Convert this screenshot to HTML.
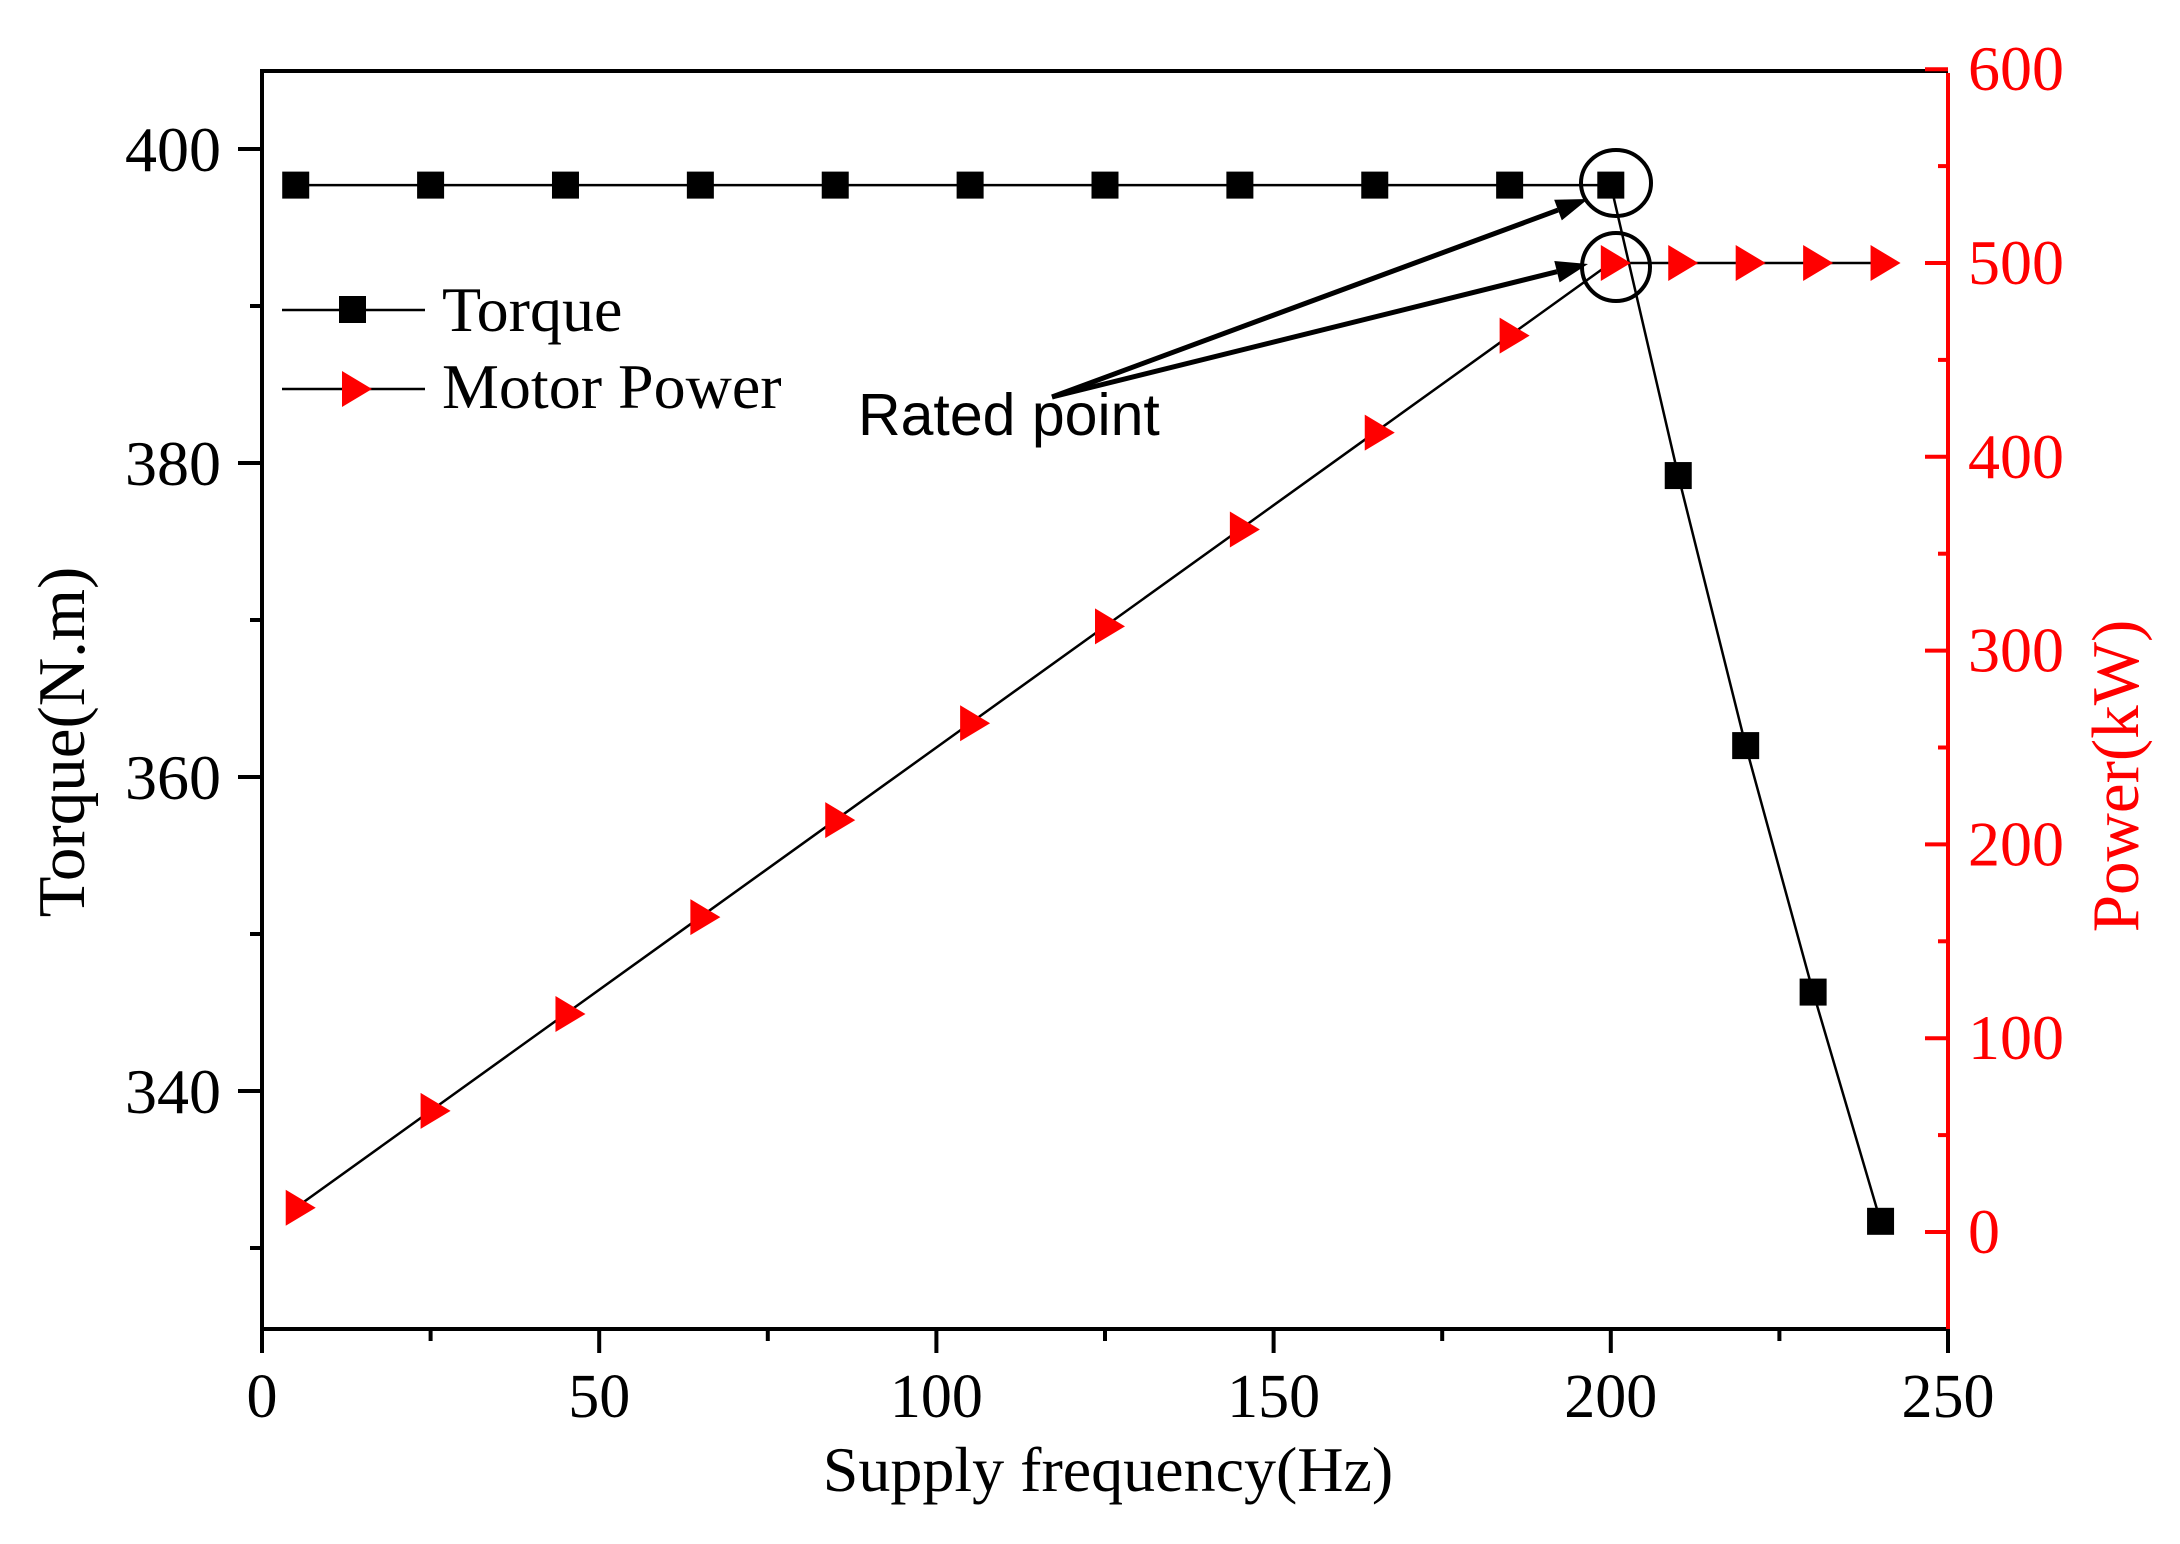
<!DOCTYPE html>
<html><head><meta charset="utf-8"><style>
html,body{margin:0;padding:0;background:#fff;}
svg{display:block;}
text{font-family:"Liberation Serif",serif;}
</style></head><body>
<svg id="chart" xmlns="http://www.w3.org/2000/svg" width="2180" height="1544" viewBox="0 0 2180 1544">
</svg>
<script>
const freqs = [5,25,45,65,85,105,125,145,165,185,200,210,220,230,240];
const torque = [397.7,397.7,397.7,397.7,397.7,397.7,397.7,397.7,397.7,397.7,397.7,379.2,362.0,346.3,331.7];
const power = [12.5,62.5,112.5,162.5,212.5,262.5,312.5,362.5,412.5,462.5,500,500,500,500,500];
const xTicks = [0,50,100,150,200,250];
const yLeftTicks = [340,360,380,400];
const yRightTicks = [0,100,200,300,400,500,600];

const L=262,R=1948,T=71,B=1329;
const sx=v=>L+(v-0)*(R-L)/250;
const syL=v=>149+(400-v)*15.7;
const syR=v=>1232-v*1.938;
const svg=document.getElementById('chart');
const NS='http://www.w3.org/2000/svg';
function mk(tag,attrs,parent){const e=document.createElementNS(NS,tag);for(const k in attrs)e.setAttribute(k,attrs[k]);(parent||svg).appendChild(e);return e;}
function txt(s,attrs){const e=mk('text',attrs);e.textContent=s;return e;}

let e;
e=mk('line',{x1:L,y1:T,x2:R,y2:T,stroke:'#000','stroke-width':4});


e=mk('line',{x1:L,y1:T-2,x2:L,y2:B+2,stroke:'#000','stroke-width':4});


e=mk('line',{x1:L,y1:B,x2:R,y2:B,stroke:'#000','stroke-width':4});


e=mk('line',{x1:R,y1:T+2,x2:R,y2:B+2,stroke:'#f00','stroke-width':4});



for(let v=0;v<=250;v+=25){const maj=v%50===0;
 e=mk('line',{x1:sx(v),y1:B,x2:sx(v),y2:B+(maj?24:12),stroke:'#000','stroke-width':4});
 
 }
xTicks.forEach(v=>{e=txt(String(v),{x:sx(v),y:1417,'font-size':62,'text-anchor':'middle',fill:'#000'});
 
 });
for(let v=330;v<=400;v+=10){const maj=v%20===0;
 e=mk('line',{x1:L-(maj?24:12),y1:syL(v),x2:L,y2:syL(v),stroke:'#000','stroke-width':4});
 
 }
yLeftTicks.forEach(v=>{e=txt(String(v),{x:221,y:syL(v)+22,'font-size':64,'text-anchor':'end',fill:'#000'});
 
 });
for(let v=0;v<=600;v+=50){const maj=v%100===0;
 e=mk('line',{x1:R-(maj?23:10),y1:syR(v),x2:R,y2:syR(v),stroke:'#f00','stroke-width':4});
 
 }
yRightTicks.forEach(v=>{e=txt(String(v),{x:1968,y:syR(v)+21,'font-size':64,'text-anchor':'start',fill:'#f00'});
 
 });

e=txt('Supply frequency(Hz)',{x:1108,y:1491,'font-size':64,'text-anchor':'middle',fill:'#000'});


e=txt('Torque(N.m)',{x:0,y:0,'font-size':67,'text-anchor':'middle',fill:'#000',transform:'translate(84,742) rotate(-90)'});


e=txt('Power(kW)',{x:0,y:0,'font-size':67,'text-anchor':'middle',fill:'#f00',transform:'translate(2138,776) rotate(-90)'});



e=mk('polyline',{points:freqs.map((f,i)=>sx(f)+','+syL(torque[i])).join(' '),fill:'none',stroke:'#000','stroke-width':2.5});


e=mk('polyline',{points:freqs.map((f,i)=>sx(f)+','+syR(power[i])).join(' '),fill:'none',stroke:'#000','stroke-width':2.5});



function tri(cx,cy){return (cx-10)+','+(cy-18)+' '+(cx+20)+','+cy+' '+(cx-10)+','+(cy+18);}
freqs.forEach((f,i)=>{
 e=mk('rect',{x:sx(f)-13.5,y:syL(torque[i])-13.5,width:27,height:27,fill:'#000'});
 
 
});
freqs.forEach((f,i)=>{
 e=mk('polygon',{points:tri(sx(f),syR(power[i])),fill:'#f00'});
 
 
});

e=mk('line',{x1:282,y1:310,x2:425,y2:310,stroke:'#000','stroke-width':2.5});


e=mk('rect',{x:339,y:296,width:27,height:27,fill:'#000'});


e=txt('Torque',{x:442,y:331,'font-size':64,fill:'#000'});


e=mk('line',{x1:282,y1:389,x2:425,y2:389,stroke:'#000','stroke-width':2.5});


e=mk('polygon',{points:tri(352,389),fill:'#f00'});


e=txt('Motor Power',{x:442,y:408,'font-size':64,fill:'#000'});



e=mk('ellipse',{cx:1616,cy:183,rx:35,ry:33,fill:'none',stroke:'#000','stroke-width':4});


e=mk('ellipse',{cx:1616,cy:267,rx:34,ry:34,fill:'none',stroke:'#000','stroke-width':4});


function arrow(x1,y1,x2,y2,name){
 const dx=x2-x1,dy=y2-y1,len=Math.hypot(dx,dy),ux=dx/len,uy=dy/len,hl=32,hw=11;
 const bx=x2-ux*hl,by=y2-uy*hl;
 e=mk('line',{x1:x1,y1:y1,x2:bx,y2:by,stroke:'#000','stroke-width':5});
 
 
 e=mk('polygon',{points:x2+','+y2+' '+(bx-uy*hw)+','+(by+ux*hw)+' '+(bx+uy*hw)+','+(by-ux*hw),fill:'#000'});
 
 
}
arrow(1052,397,1588,199,'arrow-torque');
arrow(1052,397,1588,264,'arrow-power');
e=txt('Rated point',{x:858,y:435,'font-size':59,fill:'#000'});


e.style.fontFamily='"Liberation Sans",sans-serif';
</script>
</body></html>
